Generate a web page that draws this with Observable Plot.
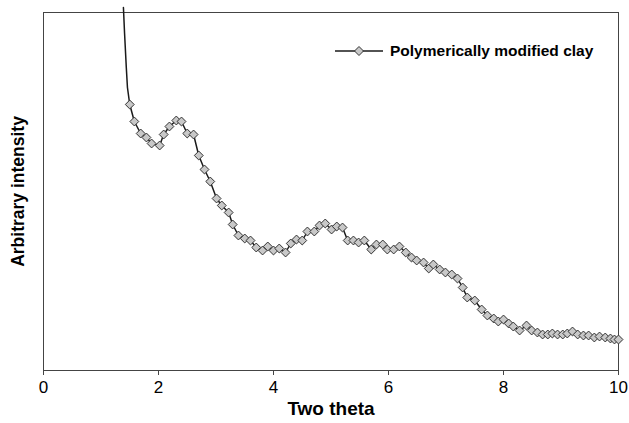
<!DOCTYPE html>
<html>
<head>
<meta charset="utf-8">
<script src="https://cdn.jsdelivr.net/npm/d3@7"></script>
<script src="https://cdn.jsdelivr.net/npm/@observablehq/plot@0.6"></script>
<style>
  html, body { margin: 0; padding: 0; background: #fff; }
  #wrap { position: relative; width: 629px; height: 423px; font-family: "Liberation Sans", Arial, sans-serif; }
  #legend { position: absolute; left: 335px; top: 42px; display: flex; align-items: center; font-weight: bold; font-size: 15.5px; color: #000; white-space: nowrap; }
  #legend svg { margin-right: 7px; }
</style>
</head>
<body>
<div id="wrap"></div>
<script>
// Lead-in of the curve (line only, no markers)
const leadTheta = [1.39, 1.41, 1.44, 1.46];
const leadIntensity = [363, 337, 303, 283];

// Measured points (diamond markers)
const theta = [
  1.50, 1.58, 1.69, 1.79, 1.88, 2.02, 2.09, 2.19, 2.31, 2.40,
  2.50, 2.61, 2.70, 2.80, 2.90, 3.01, 3.10, 3.22, 3.29, 3.39,
  3.50, 3.60, 3.70, 3.81, 3.90, 4.00, 4.10, 4.21, 4.30, 4.40,
  4.50, 4.59, 4.71, 4.80, 4.90, 5.01, 5.10, 5.20, 5.29, 5.39,
  5.48, 5.58, 5.70, 5.79, 5.90, 5.98, 6.09, 6.19, 6.30, 6.40,
  6.49, 6.61, 6.70, 6.78, 6.89, 6.99, 7.10, 7.20, 7.29, 7.37,
  7.50, 7.62, 7.72, 7.83, 7.91, 8.00, 8.09, 8.17, 8.28, 8.40,
  8.49, 8.59, 8.68, 8.77, 8.85, 8.94, 9.03, 9.11, 9.20, 9.29,
  9.39, 9.48, 9.58, 9.67, 9.77, 9.86, 9.93, 10.00
];
const intensity = [
  266, 249, 237, 233, 227, 225, 236, 244, 250, 249,
  237, 236, 215, 201, 189, 172, 165, 158, 146, 135,
  132, 130, 123, 120, 124, 120, 122, 118, 127, 131,
  130, 139, 139, 145, 147, 141, 144, 143, 130, 130,
  128, 130, 121, 126, 126, 121, 121, 124, 118, 113,
  110, 108, 102, 106, 101, 98, 96, 92, 83, 73,
  70, 61, 55, 52, 49, 51, 47, 44, 40, 45,
  40, 38, 36, 36, 37, 36, 36, 37, 39, 36,
  35, 35, 33, 34, 33, 32, 31, 31
];

const xTicks = [0, 2, 4, 6, 8, 10];
const seriesName = "Polymerically modified clay";

const points = theta.map((t, i) => ({theta: t, intensity: intensity[i]}));
const linePts = leadTheta.map((t, i) => ({theta: t, intensity: leadIntensity[i]})).concat(points);

const chart = Plot.plot({
  width: 629,
  height: 423,
  marginLeft: 43,
  marginRight: 11,
  marginTop: 12,
  marginBottom: 53,
  style: {fontFamily: "'Liberation Sans', Arial, sans-serif", fontSize: "17px", color: "#000", background: "#fff", overflow: "visible"},
  x: {domain: [0, 10], ticks: xTicks, tickSize: 5, label: null},
  y: {domain: [0, 358], axis: null},
  marks: [
    Plot.frame({stroke: "#444", strokeWidth: 1}),
    Plot.axisX({ticks: xTicks, tickSize: 5, tickPadding: 5, stroke: "#444", label: null, fontSize: 17}),
    Plot.line(linePts, {x: "theta", y: "intensity", stroke: "#1a1a1a", strokeWidth: 1.5}),
    Plot.dot(points, {x: "theta", y: "intensity", symbol: "diamond2", r: 4, fill: "#c8c8c8", stroke: "#333", strokeWidth: 1}),
    Plot.text(["Two theta"], {frameAnchor: "bottom", dy: 44, fontWeight: "bold", fontSize: 19}),
    Plot.text(["Arbitrary intensity"], {frameAnchor: "left", textAnchor: "middle", dx: -25, rotate: -90, fontWeight: "bold", fontSize: 17.5})
  ]
});

const wrap = document.getElementById("wrap");
wrap.appendChild(chart);

const legend = document.createElement("div");
legend.id = "legend";
legend.innerHTML = `<svg width="48" height="12"><line x1="0" y1="6" x2="48" y2="6" stroke="#1a1a1a" stroke-width="1.5"/><path d="M24,1.5L28.5,6L24,10.5L19.5,6Z" fill="#c8c8c8" stroke="#333" stroke-width="1"/></svg><span>${seriesName}</span>`;
wrap.appendChild(legend);
</script>
</body>
</html>
